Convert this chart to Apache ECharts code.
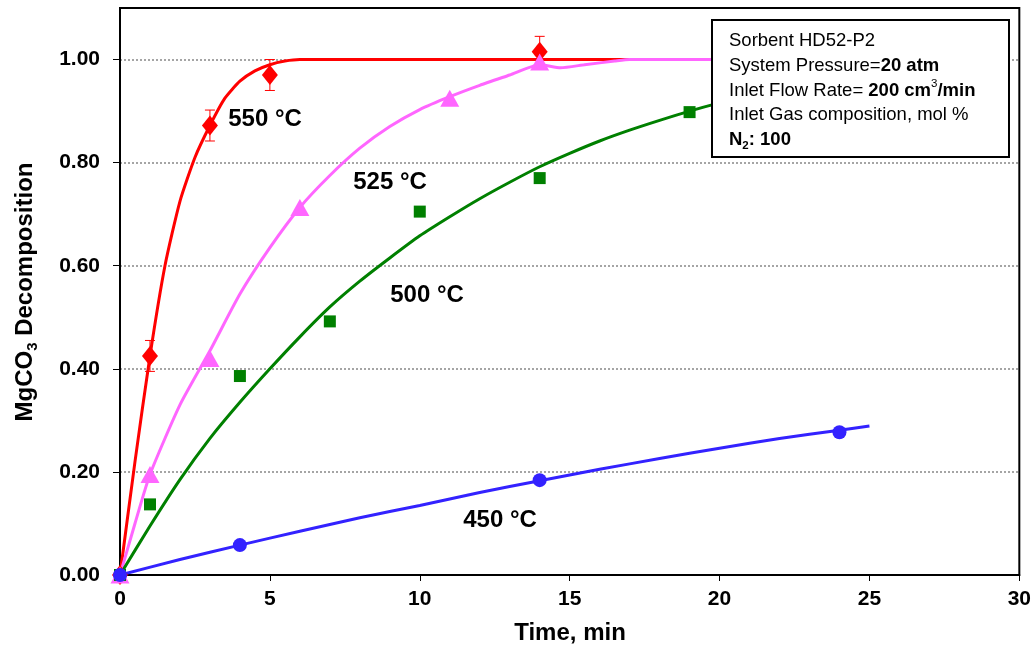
<!DOCTYPE html>
<html><head><meta charset="utf-8">
<script src="https://cdn.jsdelivr.net/npm/echarts@6/dist/echarts.min.js"></script>
<style>html,body{margin:0;padding:0;background:#fff}#c{width:1034px;height:649px}</style>
</head><body><div id="c"></div>
<script>
// ---- data ----
const xTicks = [0, 5, 10, 15, 20, 25, 30];
const yTicks = [0, 0.2, 0.4, 0.6, 0.8, 1.0];

// measured points
const t550 = [0, 1, 3, 5, 14];
const v550 = [0, 0.425, 0.872, 0.970, 1.015];
const e550 = [0, 0.03, 0.03, 0.03, 0.03];

const t525 = [0, 1, 3, 6, 11, 14];
const v525 = [0, 0.195, 0.420, 0.713, 0.925, 0.995];

const t500 = [0, 1, 4, 7, 10, 14, 19];
const v500 = [0, 0.137, 0.386, 0.492, 0.705, 0.770, 0.898];

const t450 = [0, 4, 14, 24];
const v450 = [0, 0.058, 0.184, 0.277];

// model curves
const ct550 = [0, 0.5, 1, 1.5, 2, 2.5, 3, 3.5, 4, 4.5, 5, 5.5, 6, 25];
const cv550 = [0, 0.22, 0.425, 0.60, 0.725, 0.81, 0.872, 0.925, 0.958, 0.978, 0.99, 0.997, 1.0, 1.0];

const ct525 = [0, 0.5, 1, 2, 3, 4, 5, 6, 7, 8, 9, 10, 11, 12, 13, 14, 14.7, 15.5, 16.5, 17, 25];
const cv525 = [0, 0.10, 0.195, 0.33, 0.435, 0.545, 0.635, 0.713, 0.775, 0.828, 0.87, 0.903, 0.928, 0.95, 0.97, 0.99, 0.984, 0.99, 0.997, 1.0, 1.0];

const ct500 = [0, 1, 2, 3, 4, 5, 6, 7, 8, 9, 10, 11, 12, 13, 14, 15, 16, 17, 18, 19, 20, 21, 22, 23, 24, 25];
const cv500 = [0, 0.095, 0.185, 0.265, 0.335, 0.40, 0.462, 0.52, 0.57, 0.615, 0.658, 0.695, 0.73, 0.762, 0.792, 0.818, 0.842, 0.863, 0.882, 0.90, 0.916, 0.93, 0.943, 0.955, 0.965, 0.974];

const ct450 = [0, 2, 4, 6, 8, 10, 12, 14, 16, 18, 20, 22, 24, 25];
const cv450 = [0, 0.03, 0.058, 0.085, 0.111, 0.135, 0.16, 0.183, 0.205, 0.226, 0.246, 0.265, 0.281, 0.289];

const seriesNames = ['550 °C', '525 °C', '500 °C', '450 °C'];
const colors = ['#ff0000', '#ff66ff', '#008000', '#3322ff'];

// ---- build ----
const zip = (a, b) => a.map((x, i) => [x, b[i]]);
const FF = 'Liberation Sans, Arial, Helvetica, sans-serif';

const chart = echarts.init(document.getElementById('c'), null, {renderer: 'canvas'});

function lineSeries(t, v, c) {
  return {type: 'line', data: zip(t, v), showSymbol: false, smooth: 0.2,
    lineStyle: {color: c, width: 3}, z: 2, silent: true};
}
function scatterSeries(t, v, c, sym, size) {
  return {type: 'scatter', data: zip(t, v), symbol: sym, symbolSize: size,
    itemStyle: {color: c, opacity: 1}, z: 4, silent: true};
}

const errData = t550.map((x, i) => [x, v550[i] - e550[i], v550[i] + e550[i]]).filter((d, i) => e550[i] > 0);

const option = {
  animation: false,
  grid: {left: 120, right: 14, top: 8, bottom: 74, show: true, borderColor: '#000', borderWidth: 2, backgroundColor: 'transparent'},
  xAxis: {
    type: 'value', min: 0, max: 30, interval: 5,
    axisLine: {show: true, lineStyle: {color: '#000', width: 2}},
    axisTick: {show: true, inside: false, length: 6, lineStyle: {color: '#000', width: 1}},
    axisLabel: {color: '#000', fontFamily: FF, fontWeight: 'bold', fontSize: 21, margin: 14,
      customValues: xTicks},
    splitLine: {show: false}
  },
  yAxis: {
    type: 'value', min: 0, max: 1.1, interval: 0.2,
    axisLine: {show: true, lineStyle: {color: '#000', width: 2}},
    axisTick: {show: true, inside: false, length: 7, lineStyle: {color: '#000', width: 1}, customValues: yTicks},
    axisLabel: {color: '#000', fontFamily: FF, fontWeight: 'bold', fontSize: 21, margin: 20,
      customValues: yTicks, formatter: v => v.toFixed(2)},
    splitLine: {show: true, lineStyle: {color: '#888', width: 1.5, type: [2, 2]}}
  },
  series: [
    lineSeries(ct550, cv550, colors[0]),
    lineSeries(ct525, cv525, colors[1]),
    lineSeries(ct500, cv500, colors[2]),
    lineSeries(ct450, cv450, colors[3]),
    {
      type: 'custom', data: errData, encode: {x: 0, y: [1, 2]}, z: 3, silent: true,
      renderItem: function (params, api) {
        const x = api.value(0), lo = api.value(1), hi = api.value(2);
        const a = api.coord([x, hi]), b = api.coord([x, lo]);
        const w = 5, st = {stroke: colors[0], lineWidth: 1};
        return {type: 'group', children: [
          {type: 'line', shape: {x1: a[0], y1: a[1], x2: b[0], y2: b[1]}, style: st},
          {type: 'line', shape: {x1: a[0] - w, y1: a[1], x2: a[0] + w, y2: a[1]}, style: st},
          {type: 'line', shape: {x1: b[0] - w, y1: b[1], x2: b[0] + w, y2: b[1]}, style: st}
        ]};
      }
    },
    scatterSeries(t550, v550, colors[0], 'diamond', [16, 20]),
    scatterSeries(t525, v525, colors[1], 'triangle', [19, 17]),
    scatterSeries(t500, v500, colors[2], 'rect', 12),
    scatterSeries(t450, v450, colors[3], 'circle', 14)
  ],
  graphic: [
    {type: 'text', x: 265, y: 119, z: 10, style: {text: seriesNames[0], font: 'bold 24px ' + FF, fill: '#000', textAlign: 'center', textVerticalAlign: 'middle'}},
    {type: 'text', x: 390, y: 182, z: 10, style: {text: seriesNames[1], font: 'bold 24px ' + FF, fill: '#000', textAlign: 'center', textVerticalAlign: 'middle'}},
    {type: 'text', x: 427, y: 295, z: 10, style: {text: seriesNames[2], font: 'bold 24px ' + FF, fill: '#000', textAlign: 'center', textVerticalAlign: 'middle'}},
    {type: 'text', x: 500, y: 520, z: 10, style: {text: seriesNames[3], font: 'bold 24px ' + FF, fill: '#000', textAlign: 'center', textVerticalAlign: 'middle'}},
    {type: 'text', x: 570, y: 633, z: 10, style: {text: 'Time, min', font: 'bold 24px ' + FF, fill: '#000', textAlign: 'center', textVerticalAlign: 'middle'}},
    {type: 'text', x: 25, y: 292, rotation: Math.PI / 2, z: 10, style: {
      text: '{a|MgCO}{s|3}{a| Decomposition}', textAlign: 'center', textVerticalAlign: 'middle',
      rich: {
        a: {fontFamily: FF, fontWeight: 'bold', fontSize: 24, lineHeight: 30, fill: '#000'},
        s: {fontFamily: FF, fontWeight: 'bold', fontSize: 15, lineHeight: 16, verticalAlign: 'bottom', fill: '#000'}
      }}},
    {type: 'rect', z: 20, shape: {x: 712, y: 20, width: 297, height: 137},
      style: {fill: '#fff', stroke: '#000', lineWidth: 2}},
    {type: 'text', x: 729, y: 29, z: 21, style: {
      text: '{r|Sorbent HD52-P2}\n{r|System Pressure=}{b|20 atm}\n{r|Inlet Flow Rate= }{b|200 cm}{sp|3}{b|/min}\n{r|Inlet Gas composition, mol %}\n{b|N}{sb|2}{b|: 100}',
      textAlign: 'left', textVerticalAlign: 'top',
      rich: {
        r: {fontFamily: FF, fontSize: 18.5, lineHeight: 24.6, fill: '#000'},
        b: {fontFamily: FF, fontSize: 18.5, fontWeight: 'bold', lineHeight: 24.6, fill: '#000'},
        sp: {fontFamily: FF, fontSize: 11.5, lineHeight: 14, verticalAlign: 'top', fill: '#000'},
        sb: {fontFamily: FF, fontSize: 11.5, fontWeight: 'bold', lineHeight: 14, verticalAlign: 'bottom', fill: '#000'}
      }}}
  ]
};
chart.setOption(option);
</script>
</body></html>
